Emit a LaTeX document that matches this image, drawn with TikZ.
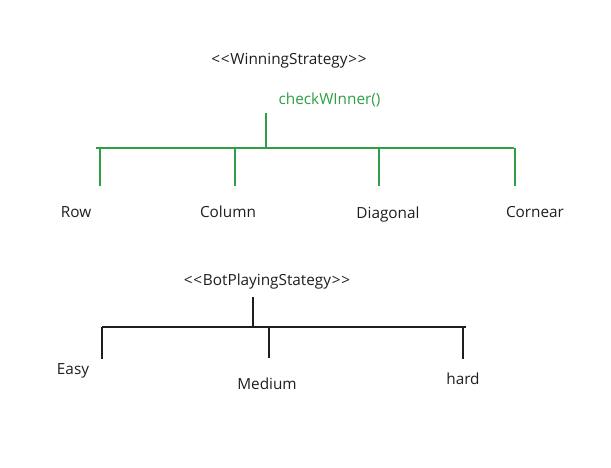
\documentclass[tikz,border=0pt]{standalone}
\usepackage{fontspec}
\setmainfont{Open Sans}
\definecolor{strokeGreen}{RGB}{47,158,68}
\definecolor{inkDark}{RGB}{30,30,30}
\newcommand{\lguil}{<\kern0.6pt<\kern0.6pt}
\newcommand{\rguil}{\kern0.6pt>\kern0.6pt>}

\tikzset{every picture/.style={line width=0.9pt}}
\tikzset{
  plain text/.style={inner sep=0.75pt, font=\fontsize{11.5}{13}\selectfont, text=inkDark},
  green text/.style={plain text, text=strokeGreen},
  green line/.style={draw=strokeGreen},
  dark line/.style={draw=inkDark},
}

\begin{document}
\begin{tikzpicture}[x=0.75pt,y=0.75pt,yscale=-1,xscale=1]
\useasboundingbox (0,0) rectangle (611,468);

% Text Node
\node [plain text] (winStrategy) at (289,61) {\lguil WinningStrategy\rguil};
% Text Node
\node [green text, anchor=west] (checkWinner) at (277,100) {checkWInner()};

%Straight Lines
\coordinate (winStub) at (266,113);
\coordinate (winBarL) at (96,148);
\coordinate (winBarR) at (514,148);
\coordinate (winBarMid) at (266,148);
\draw [green line] (winStub) -- (winBarMid);
\draw [green line] (winBarL) -- (winBarR);

% Text Node
\node [plain text] (row) at (76,212) {Row};
% Text Node
\node [plain text] (column) at (228,212) {Column};
% Text Node
\node [plain text] (diagonal) at (388,215) {Diagonal};
% Text Node
\node [plain text] (cornear) at (535,212) {Cornear};

%Straight Lines
\coordinate (rowTop) at (100,186);
\coordinate (columnTop) at (235,186);
\coordinate (diagonalTop) at (379,186);
\coordinate (cornearTop) at (515,186);
\draw [green line] (rowTop |- winBarL) -- (rowTop);
\draw [green line] (columnTop |- winBarL) -- (columnTop);
\draw [green line] (diagonalTop |- winBarL) -- (diagonalTop);
\draw [green line] (cornearTop |- winBarL) -- (cornearTop);

% Text Node
\node [plain text] (botStrategy) at (267,282) {\lguil BotPlayingStategy\rguil};

%Straight Lines
\coordinate (botStub) at (253,297);
\coordinate (botBarL) at (102,327);
\coordinate (botBarR) at (466,327);
\draw [dark line] (botStub) -- (botStub |- botBarL);
\draw [dark line] (botBarL) -- (botBarR);

% Text Node
\node [plain text] (easy) at (73,371) {Easy};
% Text Node
\node [plain text] (medium) at (267,384) {Medium};
% Text Node
\node [plain text] (hard) at (463,379) {hard};

%Straight Lines
\coordinate (easyTop) at (102,359);
\coordinate (mediumTop) at (269,358);
\coordinate (hardTop) at (463,359);
\draw [dark line] (easyTop |- botBarL) -- (easyTop);
\draw [dark line] (mediumTop |- botBarL) -- (mediumTop);
\draw [dark line] (hardTop |- botBarL) -- (hardTop);

\end{tikzpicture}
\end{document}
